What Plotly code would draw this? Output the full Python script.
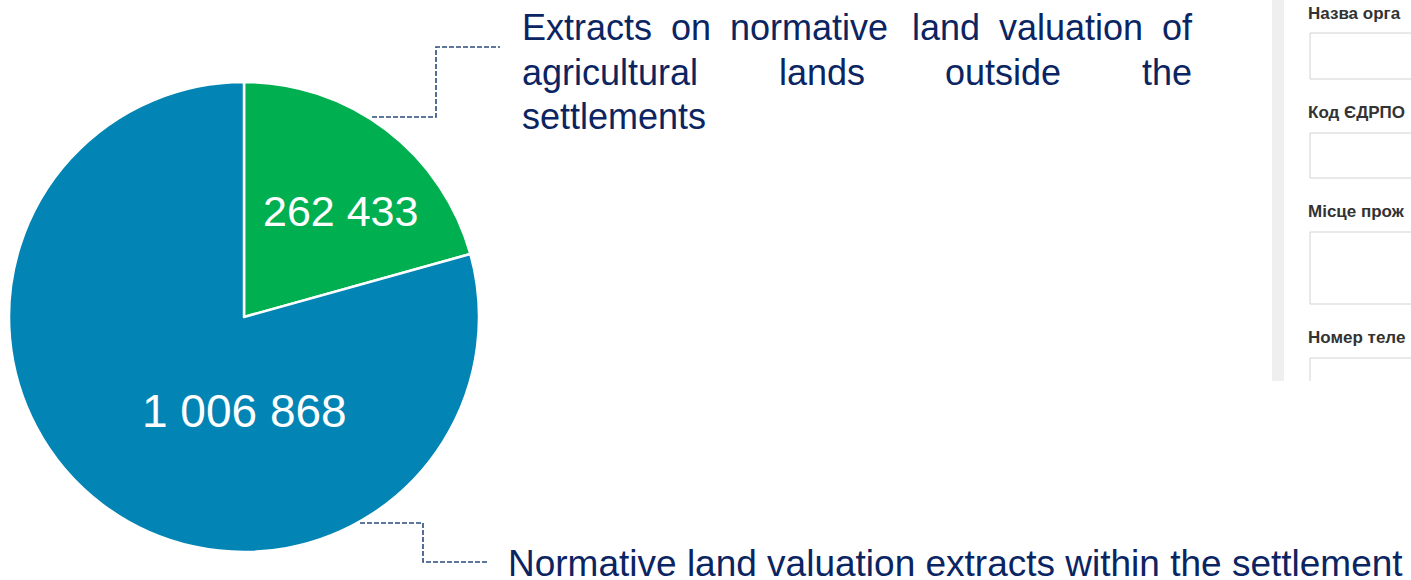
import plotly.graph_objects as go

# ---- data ----
categories = ["Extracts on normative land valuation of agricultural lands outside the settlements",
              "Normative land valuation extracts within the settlement"]
values = [262433, 1006868]
slice_colors = ["#00AF50", "#0285B5"]
value_labels = ["262 433", "1 006 868"]

# description text, word by word (justified layout like the source)
top_lines = [["Extracts", "on", "normative", "land", "valuation", "of"],
             ["agricultural", "lands", "outside", "the"],
             ["settlements"]]
bottom_text = "Normative land valuation extracts within the settlement"
form_labels = ["Назва орга", "Код ЄДРПО", "Місце прож", "Номер теле"]

W, H = 1411, 580
NAVY = "#0B2462"
FONT = "Liberation Sans, Arial, sans-serif"

fig = go.Figure()
# invisible helper trace so the pixel-coordinate axes exist
fig.add_trace(go.Scatter(x=[None], y=[None], mode="markers", hoverinfo="skip", showlegend=False))
fig.add_trace(go.Pie(
    labels=categories, values=values, sort=False, direction="clockwise", rotation=0,
    marker=dict(colors=slice_colors, line=dict(color="white", width=2.5)),
    textinfo="none", hoverinfo="label+value", showlegend=False,
    domain=dict(x=[9 / W, 479 / W], y=[(H - 552) / H, (H - 82) / H]),
))

ann = []
# slice value labels
ann.append(dict(x=340, y=211, text=value_labels[0], showarrow=False, xanchor="center", yanchor="middle",
                font=dict(family=FONT, size=43, color="white")))
ann.append(dict(x=244, y=411, text=value_labels[1], showarrow=False, xanchor="center", yanchor="middle",
                font=dict(family=FONT, size=46, color="white")))

# top description, justified words
word_x = [[522, 671, 730, 912, 999, 1162],
          [522, 779, 945, 1142],
          [522]]
line_y = [27, 72, 116]
for words, xs, y in zip(top_lines, word_x, line_y):
    for w, x in zip(words, xs):
        ann.append(dict(x=x, y=y, text=w, showarrow=False, xanchor="left", yanchor="middle",
                        xshift=-2, font=dict(family=FONT, size=36, color=NAVY)))

ann.append(dict(x=506, y=563, text=bottom_text, showarrow=False, xanchor="left", yanchor="middle",
                font=dict(family=FONT, size=37, color=NAVY)))

# form screenshot labels
for lab, y in zip(form_labels, [13, 112, 211, 337]):
    ann.append(dict(x=1306, y=y, text="<b>" + lab + "</b>", showarrow=False, xanchor="left", yanchor="middle",
                    font=dict(family=FONT, size=17, color="#333333")))

shapes = []
LINE = dict(color="#2B4A7E", width=1.6, dash="5px,2px")
shapes.append(dict(type="path", path="M 372 117 L 436 117 L 436 47 L 500 47", line=LINE))
shapes.append(dict(type="path", path="M 360 523 L 423 523 L 423 562 L 487 562", line=LINE))

# form screenshot decoration
shapes.append(dict(type="rect", x0=1272, x1=1284, y0=0, y1=381, fillcolor="#EFEFEF", line=dict(width=0),
                   layer="below"))
BOX = dict(color="#D2D2D2", width=1)
for y0, y1 in [(33, 79), (133, 178), (232, 304)]:
    shapes.append(dict(type="rect", x0=1310, x1=1425, y0=y0, y1=y1, line=BOX, fillcolor="white", layer="below"))
shapes.append(dict(type="path", path="M 1310 381 L 1310 358 L 1425 358", line=BOX))

fig.update_layout(
    width=W, height=H, margin=dict(l=0, r=0, t=0, b=0),
    paper_bgcolor="white", plot_bgcolor="white",
    xaxis=dict(range=[0, W], visible=False, fixedrange=True),
    yaxis=dict(range=[H, 0], visible=False, fixedrange=True),
    annotations=ann, shapes=shapes,
)
fig.write_html("out.html")
